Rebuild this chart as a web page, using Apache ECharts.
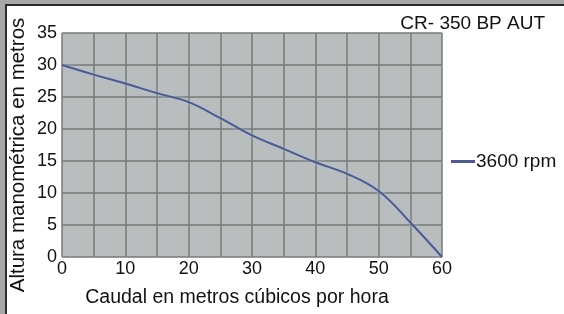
<!DOCTYPE html>
<html><head><meta charset="utf-8">
<script src="https://cdn.jsdelivr.net/npm/echarts@6/dist/echarts.min.js"></script>
<style>html,body{margin:0;padding:0;background:#fff}#c{width:564px;height:314px}</style>
</head><body><div id="c"></div>
<script>
const flowValues = [0, 5, 10, 15, 20, 25, 30, 35, 40, 45, 50, 55, 60];
const headValues = [30, 28.5, 27.1, 25.6, 24.2, 21.7, 19, 16.9, 14.8, 13, 10.3, 5.4, 0];
const seriesName = '3600 rpm';
const titleText = 'CR- 350 BP AUT';
const xAxisName = 'Caudal en metros cúbicos por hora';
const yAxisName = 'Altura manométrica en metros';
const xTickLabels = [0, 10, 20, 30, 40, 50, 60];

const chart = echarts.init(document.getElementById('c'), null, {renderer: 'canvas'});
const font = 'Liberation Sans, Arial, sans-serif';
chart.setOption({
  animation: false,
  backgroundColor: '#fff',
  textStyle: {fontFamily: font},
  title: {text: titleText, right: 14, top: 9,
    textStyle: {fontSize: 19, fontWeight: 'normal', color: '#111', fontFamily: font}},
  legend: {data: [seriesName], left: 446, top: 147, icon: 'rect', itemWidth: 24, itemHeight: 3,
    itemGap: 4, textStyle: {fontSize: 19, color: '#111', fontFamily: font, padding: [0,0,0,-4]}},
  grid: {left: 62, right: 122, top: 33, bottom: 57, show: true, backgroundColor: '#b9bdbd', borderWidth: 0,
    containLabel: false, outerBoundsMode: 'none'},
  xAxis: {type: 'value', min: 0, max: 60, interval: 5,
    axisLine: {show: false}, axisTick: {show: false},
    axisLabel: {fontSize: 18, color: '#111', margin: 3, fontFamily: font,
      formatter: v => xTickLabels.includes(v) ? String(v) : ''},
    splitLine: {show: true, lineStyle: {color: '#767b7a', width: 1.5}}},
  yAxis: {type: 'value', min: 0, max: 35, interval: 5,
    axisLine: {show: false}, axisTick: {show: false},
    axisLabel: {fontSize: 18, color: '#111', margin: 5, fontFamily: font},
    splitLine: {show: true, lineStyle: {color: '#767b7a', width: 1.5}}},
  series: [{name: seriesName, type: 'line', smooth: 0.4, showSymbol: false,
    data: flowValues.map((x, i) => [x, headValues[i]]),
    itemStyle: {color: '#4f5b86'},
    lineStyle: {color: '#4f5b86', width: 2, shadowColor: 'rgba(170,190,240,0.9)', shadowBlur: 4}}],
  graphic: [
    {type: 'rect', shape: {x: 0, y: 0, width: 564, height: 4}, style: {fill: '#a8a8a8'}, silent: true},
    {type: 'rect', shape: {x: 0, y: 4, width: 564, height: 2}, style: {fill: '#2b2b2b'}, silent: true},
    {type: 'rect', shape: {x: 0, y: 0, width: 5, height: 314}, style: {fill: '#a8a8a8'}, silent: true},
    {type: 'rect', shape: {x: 5, y: 4, width: 2, height: 310}, style: {fill: '#2b2b2b'}, silent: true},
    {type: 'text', x: 237, y: 298, silent: true,
      style: {text: xAxisName, fontSize: 19.5, fill: '#111', fontFamily: font, align: 'center', verticalAlign: 'middle'}},
    {type: 'text', x: 18, y: 155, rotation: Math.PI / 2, silent: true,
      style: {text: yAxisName, fontSize: 20.5, fill: '#111', fontFamily: font, align: 'center', verticalAlign: 'middle'}}
  ]
});
</script></body></html>
